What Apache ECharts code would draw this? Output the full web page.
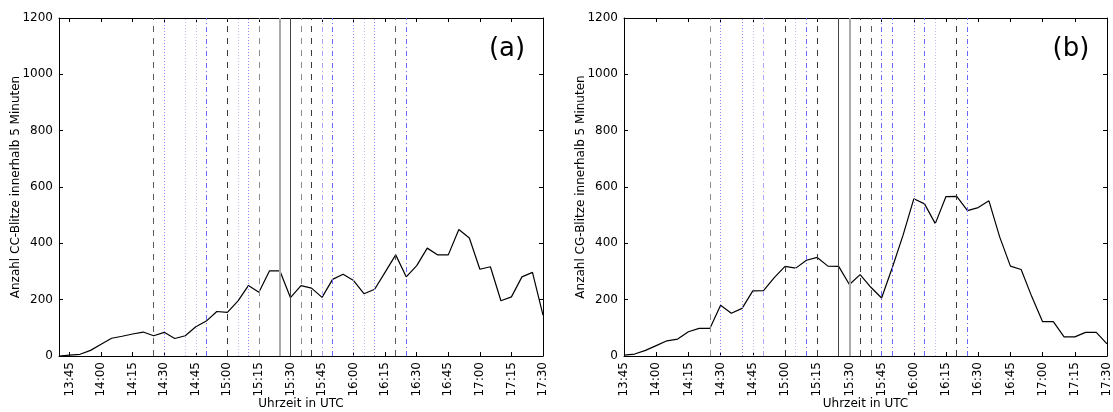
<!DOCTYPE html>
<html>
<head>
<meta charset="utf-8">
<script src="https://cdn.jsdelivr.net/npm/echarts@6/dist/echarts.min.js"></script>
<style>
  html, body { margin: 0; padding: 0; background: #fff; }
  #chart { width: 1113px; height: 412px; }
</style>
</head>
<body>
<div id="chart"></div>
<script>
// 5-minute time steps (UTC) for panel (a), starting 13:40
const timesCC = ['13:40','13:45','13:50','13:55','14:00','14:05','14:10','14:15','14:20','14:25',
  '14:30','14:35','14:40','14:45','14:50','14:55','15:00','15:05','15:10','15:15','15:20','15:25',
  '15:30','15:35','15:40','15:45','15:50','15:55','16:00','16:05','16:10','16:15','16:20','16:25',
  '16:30','16:35','16:40','16:45','16:50','16:55','17:00','17:05','17:10','17:15','17:20','17:25','17:30'];
// Intra-cloud (CC) flashes per 5 minutes
const countsCC = [0, 3, 6, 20, 42, 63, 70, 78, 85, 72,
  84, 62, 72, 104, 124, 158, 155, 195, 250, 226, 302, 302,
  207, 250, 241, 208, 272, 290, 268, 221, 237, 298, 359, 281,
  321, 383, 359, 359, 449, 419, 308, 317, 196, 210, 281, 297, 145];

// 5-minute time steps (UTC) for panel (b), starting 13:45
const timesCG = ['13:45','13:50','13:55','14:00','14:05','14:10','14:15','14:20','14:25',
  '14:30','14:35','14:40','14:45','14:50','14:55','15:00','15:05','15:10','15:15','15:20','15:25',
  '15:30','15:35','15:40','15:45','15:50','15:55','16:00','16:05','16:10','16:15','16:20','16:25',
  '16:30','16:35','16:40','16:45','16:50','16:55','17:00','17:05','17:10','17:15','17:20','17:25','17:30'];
// Cloud-to-ground (CG) flashes per 5 minutes
const countsCG = [3, 7, 20, 37, 54, 60, 86, 98, 98,
  180, 152, 169, 231, 232, 278, 318, 312, 340, 350, 319, 318,
  254, 289, 244, 206, 314, 429, 558, 540, 470, 566, 567, 516,
  527, 551, 423, 319, 307, 210, 122, 122, 68, 68, 84, 84, 43];

// Labelled ticks on the time axis
const tickLabels = ['13:45','14:00','14:15','14:30','14:45','15:00','15:15','15:30',
  '15:45','16:00','16:15','16:30','16:45','17:00','17:15','17:30'];

// Event markers, grouped by kind, panel (a)
const eventsA = {
  dashDark: ['15:00','15:40'],
  dashMid: ['14:25','16:20'],
  dashGray: ['15:15','15:35'],
  dotBlue: ['14:30','15:10','16:00','16:10'],
  dotLight: ['14:40','14:45','15:05','16:05'],
  dashDotBlue: ['14:50','15:50','16:25'],
  dashDotLight: ['15:45'],
  solidLight: ['15:25'],
  solidDark: ['15:30']
};
// Event markers, grouped by kind, panel (b)
const eventsB = {
  dashDark: ['15:00','15:15','15:35','16:20'],
  dashMid: ['15:40'],
  dashGray: ['14:25'],
  dotBlue: ['14:30','14:40','16:00'],
  dotLight: ['14:45','15:05','16:10'],
  dashDotBlue: ['15:10','15:45','15:50','16:05','16:25'],
  dashDotLight: ['14:50'],
  solidDark: ['15:25'],
  solidLight: ['15:30']
};

const FONT = 'DejaVu Sans, Verdana, sans-serif';
const markerStyles = {
  dashDark:     { color: '#3a3a3a', width: 1, type: [6, 6] },
  dashMid:      { color: '#5a5a5a', width: 1, type: [6, 6] },
  dashGray:     { color: '#8c8c8c', width: 1, type: [6, 6] },
  dotBlue:      { color: '#8a8aff', width: 1, type: [1, 2] },
  dotLight:     { color: '#bcbcf5', width: 1, type: [1, 2] },
  dashDotBlue:  { color: '#6a6aff', width: 1, type: [5, 3, 1, 3] },
  dashDotLight: { color: '#a8a8f5', width: 1, type: [5, 3, 1, 3] },
  solidDark:    { color: '#444444', width: 1, type: 'solid' },
  solidLight:   { color: '#aaaaaa', width: 2, type: 'solid' }
};

const isTick = (idx, val) => tickLabels.indexOf(val) >= 0;

function axesFor(g, cats, yName) {
  const common = {
    type: 'category', gridIndex: g, data: cats, boundaryGap: false,
    axisLine: { show: true, onZero: false, lineStyle: { color: '#000', width: 1 } },
    axisTick: { show: true, inside: true, length: 4, interval: isTick, lineStyle: { color: '#000' } },
    splitLine: { show: false }
  };
  const xs = [
    Object.assign({}, common, {
      position: 'bottom',
      axisLabel: { show: true, rotate: 90, interval: isTick, fontSize: 12, color: '#000', margin: 6, fontFamily: FONT },
      name: 'Uhrzeit in UTC', nameLocation: 'middle', nameGap: 42, nameMoveOverlap: false,
      nameTextStyle: { fontSize: 12, color: '#000', fontFamily: FONT }
    }),
    Object.assign({}, common, { position: 'top', axisLabel: { show: false } })
  ];
  const ycommon = {
    type: 'value', gridIndex: g, min: 0, max: 1200, interval: 200,
    axisLine: { show: true, onZero: false, lineStyle: { color: '#000', width: 1 } },
    axisTick: { show: true, inside: true, length: 4, lineStyle: { color: '#000' } },
    splitLine: { show: false }
  };
  const ys = [
    Object.assign({}, ycommon, {
      position: 'left',
      axisLabel: { show: true, fontSize: 12, color: '#000', margin: 6, fontFamily: FONT,
        formatter: v => String(v) },
      name: yName, nameLocation: 'middle', nameGap: 37, nameMoveOverlap: false,
      nameTextStyle: { fontSize: 12, color: '#000', fontFamily: FONT }
    }),
    Object.assign({}, ycommon, { position: 'right', axisLabel: { show: false } })
  ];
  return { xs, ys };
}

function eventSeries(groups, cats, axisIdx, values) {
  const data = [];
  Object.keys(groups).forEach(kind => {
    groups[kind].forEach(t => {
      data.push({ xAxis: cats.indexOf(t), lineStyle: markerStyles[kind] });
    });
  });
  return {
    type: 'line', xAxisIndex: axisIdx, yAxisIndex: axisIdx, data: values,
    showSymbol: false, silent: true, z: 1,
    lineStyle: { opacity: 0 },
    markLine: {
      symbol: ['none', 'none'], silent: true, animation: false,
      label: { show: false }, emphasis: { disabled: true }, data
    }
  };
}

function countSeries(axisIdx, values) {
  return {
    type: 'line', xAxisIndex: axisIdx, yAxisIndex: axisIdx, data: values,
    showSymbol: false, silent: true, z: 3, animation: false,
    lineStyle: { color: '#000', width: 1.2 }
  };
}

const a = axesFor(0, timesCC, 'Anzahl CC-Blitze innerhalb 5 Minuten');
const b = axesFor(1, timesCG, 'Anzahl CG-Blitze innerhalb 5 Minuten');

const option = {
  animation: false,
  backgroundColor: '#fff',
  grid: [
    { left: 59, top: 18, width: 484, height: 338, containLabel: false, outerBoundsMode: 'none' },
    { left: 624, top: 18, width: 483, height: 338, containLabel: false, outerBoundsMode: 'none' }
  ],
  xAxis: [a.xs[0], a.xs[1], b.xs[0], b.xs[1]],
  yAxis: [a.ys[0], a.ys[1], b.ys[0], b.ys[1]],
  series: [
    eventSeries(eventsA, timesCC, 0, countsCC),
    countSeries(0, countsCC),
    eventSeries(eventsB, timesCG, 2, countsCG),
    countSeries(2, countsCG)
  ],
  graphic: [
    { type: 'text', x: 507, y: 49, style: { text: '(a)', fontSize: 26, fontFamily: FONT, fill: '#000', align: 'center', verticalAlign: 'middle' } },
    { type: 'text', x: 1071, y: 49, style: { text: '(b)', fontSize: 26, fontFamily: FONT, fill: '#000', align: 'center', verticalAlign: 'middle' } }
  ]
};

const chart = echarts.init(document.getElementById('chart'), null, { renderer: 'canvas' });
chart.setOption(option);
</script>
</body>
</html>
